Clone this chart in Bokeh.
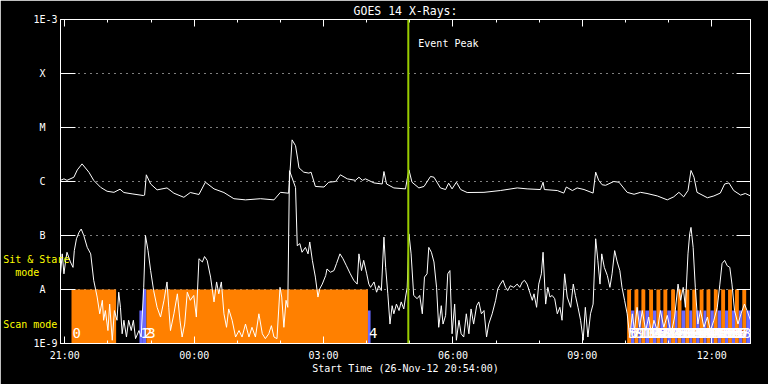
import numpy as np
from bokeh.plotting import figure
from bokeh.models import (Range1d, FixedTicker, CustomJSTickFormatter, LinearAxis,
                          LogAxis, Span, Label, ColumnDataSource)
from bokeh.core.properties import value
from bokeh.embed import file_html
from bokeh.resources import INLINE

FONT = "DejaVu Sans Mono"
NB = "\u00a0"

# ---------------- data (x = hours after 26-Nov-12 21:00) ----------------
x_start, x_end = -0.1, 15.9          # 20:54 .. 12:54
x_tick_hours = [0, 3, 6, 9, 12, 15]
x_tick_labels = ["21:00", "00:00", "03:00", "06:00", "09:00", "12:00"]
x_minor_hours = [0, 1, 2, 3, 4, 5, 6, 7, 8, 9, 10, 11, 12, 13, 14, 15]

y_min, y_max = 1e-9, 1e-3
y_ticks = [1e-9, 1e-8, 1e-7, 1e-6, 1e-5, 1e-4, 1e-3]
y_tick_labels = ["1E-9", "A", "B", "C", "M", "X", "1E-3"]
y_grid_levels = [1e-8, 1e-7, 1e-6, 1e-5, 1e-4]

title_text = "GOES 14 X-Rays:"
x_title = "Start Time (26-Nov-12 20:54:00)"

# GOES 14 long channel (1-8 A), W/m^2
long_hours = [-0.10, -0.02, 0.05, 0.21, 0.29, 0.40, 0.56, 0.67, 0.83, 0.98, 1.14, 1.28, 1.37, 1.56,
              1.82, 1.85, 1.89, 1.99, 2.14, 2.37, 2.53, 2.76, 2.91, 3.11, 3.26, 3.46, 3.69, 3.92,
              4.19, 4.54, 4.85, 5.00, 5.19, 5.27, 5.35, 5.40, 5.43, 5.54, 5.66, 5.71, 5.81, 6.01,
              6.12, 6.28, 6.39, 6.55, 6.74, 6.82, 6.90, 6.97, 7.17, 7.36, 7.40, 7.46, 7.63, 7.90,
              7.94, 7.98, 8.05, 8.21, 8.33, 8.48, 8.56, 8.71, 8.83, 8.90, 8.98, 9.08, 9.18, 9.33,
              9.72, 10.10, 10.49, 10.72, 11.03, 11.09, 11.12, 11.42, 11.57, 11.63, 11.77, 11.88,
              12.04, 12.25, 12.31, 12.38, 12.46, 12.54, 12.73, 12.85, 13.04, 13.20, 13.35, 13.50,
              13.74, 13.97, 14.12, 14.24, 14.35, 14.45, 14.52, 14.59, 14.66, 14.90, 15.05, 15.20,
              15.30, 15.40, 15.51, 15.67, 15.78, 15.90]
long_flux = [1.05e-6, 1.12e-6, 1.05e-6, 1.2e-6, 1.64e-6, 2.12e-6, 1.48e-6, 1.05e-6, 7.8e-7, 6.6e-7,
             6.3e-7, 7.2e-7, 6.25e-7, 5.9e-7, 5.5e-7, 5.6e-7, 1.33e-6, 9.0e-7, 7.0e-7, 7.6e-7,
             6.07e-7, 5.1e-7, 6.25e-7, 5.75e-7, 9.7e-7, 7.3e-7, 6.25e-7, 4.8e-7, 4.57e-7, 4.8e-7,
             4.57e-7, 6.3e-7, 6.07e-7, 5.9e-6, 4.6e-6, 2.6e-6, 1.79e-6, 1.49e-6, 1.43e-6, 1.49e-6,
             8.1e-7, 7.9e-7, 9.7e-7, 1.0e-6, 1.33e-6, 1.12e-6, 1.05e-6, 1.2e-6, 1.05e-6, 1.12e-6,
             9.4e-7, 9.0e-7, 1.53e-6, 9.0e-7, 7.6e-7, 7.3e-7, 1.12e-6, 1.64e-6, 9.7e-7, 7.6e-7,
             8.1e-7, 1.24e-6, 1.2e-6, 7.6e-7, 7.1e-7, 9.3e-7, 7.3e-7, 9.7e-7, 7.1e-7, 6.25e-7,
             6.3e-7, 6.8e-7, 7.6e-7, 7.3e-7, 7.1e-7, 9.7e-7, 7.1e-7, 6.8e-7, 6.1e-7, 7.9e-7,
             6.8e-7, 7.6e-7, 7.1e-7, 6.1e-7, 1.49e-6, 1.05e-6, 8.7e-7, 8.5e-7, 1.0e-6, 9.7e-7,
             6.3e-7, 5.8e-7, 6.3e-7, 6.0e-7, 5.4e-7, 4.57e-7, 5.2e-7, 6.3e-7, 5.2e-7, 6.8e-7,
             1.6e-6, 1.2e-6, 6.3e-7, 5.0e-7, 5.4e-7, 6.1e-7, 9.0e-7, 9.4e-7, 6.8e-7, 5.6e-7,
             6.0e-7, 5.4e-7]

# GOES 14 short channel (0.5-4 A), log10 of W/m^2
short_hours = [-0.10, -0.06, -0.02, 0.02, 0.05, 0.13, 0.19, 0.22, 0.27, 0.33, 0.38, 0.44, 0.52, 0.60,
               0.67, 0.75, 0.81, 0.87, 0.90, 0.94, 1.00, 1.04, 1.10, 1.15, 1.21, 1.25, 1.29, 1.33,
               1.37, 1.43, 1.48, 1.54, 1.59, 1.64, 1.72, 1.77, 1.83, 1.87, 1.93, 1.99, 2.06, 2.14,
               2.22, 2.30, 2.37, 2.41, 2.45, 2.53, 2.61, 2.67, 2.72, 2.78, 2.84, 2.91, 2.99, 3.05,
               3.11, 3.19, 3.24, 3.30, 3.38, 3.46, 3.52, 3.57, 3.63, 3.69, 3.75, 3.80, 3.88, 3.96,
               4.04, 4.11, 4.19, 4.27, 4.34, 4.42, 4.50, 4.58, 4.65, 4.73, 4.79, 4.85, 4.92, 4.99,
               5.03, 5.08, 5.13, 5.17, 5.21, 5.35, 5.39, 5.45, 5.50, 5.58, 5.64, 5.68, 5.74, 5.81,
               5.87, 5.91, 5.97, 6.05, 6.08, 6.16, 6.24, 6.30, 6.38, 6.45, 6.53, 6.62, 6.70, 6.78,
               6.82, 6.88, 6.93, 7.00, 7.05, 7.09, 7.17, 7.23, 7.28, 7.34, 7.40, 7.44, 7.49, 7.54,
               7.59, 7.63, 7.69, 7.75, 7.80, 7.86, 7.90, 7.94,
               7.98, 8.03, 8.09, 8.17, 8.23, 8.29, 8.34, 8.40, 8.44, 8.50, 8.56, 8.62, 8.67, 8.73,
               8.77, 8.83, 8.88, 8.93, 8.98, 9.04, 9.08, 9.14, 9.19, 9.25, 9.31, 9.37, 9.42, 9.48,
               9.55, 9.60, 9.66, 9.72, 9.78, 9.83, 9.91, 9.99, 10.04, 10.10, 10.16, 10.22, 10.27,
               10.33, 10.41, 10.49, 10.55, 10.61, 10.66, 10.72, 10.78, 10.84, 10.88, 10.94, 10.99,
               11.05, 11.09, 11.15, 11.20, 11.25, 11.30, 11.36, 11.42, 11.48, 11.53, 11.59, 11.65,
               11.73, 11.79, 11.84, 11.90, 11.96, 12.02, 12.07, 12.13, 12.19, 12.25, 12.31, 12.36,
               12.41, 12.45, 12.51, 12.58, 12.64, 12.69, 12.75, 12.81, 12.87, 12.92, 12.98, 13.04,
               13.10, 13.16, 13.21, 13.27, 13.33, 13.39, 13.47, 13.54, 13.60, 13.66, 13.74, 13.81,
               13.89, 13.97, 14.06, 14.14, 14.22, 14.28, 14.34, 14.39, 14.45, 14.49, 14.52, 14.57,
               14.62, 14.68, 14.74, 14.82, 14.90, 14.97, 15.05, 15.13, 15.19, 15.24, 15.30, 15.36,
               15.42, 15.47, 15.53, 15.61, 15.68, 15.76, 15.82, 15.90]
short_log10 = [-7.71, -7.34, -7.71, -7.46, -7.31, -7.49, -7.59, -7.28, -7.06, -6.94, -6.88, -7.00,
               -7.22, -7.34, -7.83, -8.14, -8.45, -8.20, -8.57, -8.39, -8.76, -8.27, -8.94, -8.39,
               -8.57, -8.05, -8.33, -8.82, -8.57, -8.88, -8.57, -8.76, -8.57, -8.91, -8.76, -8.88,
               -7.96, -7.00, -7.28, -7.65, -8.02, -8.33, -8.51, -8.20, -7.86, -8.33, -8.76, -8.45,
               -8.08, -8.57, -8.88, -8.64, -8.05, -8.20, -8.11, -8.51, -7.43, -7.49, -7.39, -7.46,
               -7.77, -8.23, -7.86, -8.08, -7.86, -8.45, -8.70, -8.36, -8.57, -8.88, -8.76, -8.88,
               -8.64, -8.88, -8.70, -8.88, -8.45, -8.82, -8.91, -8.82, -8.67, -8.88, -8.91, -7.96,
               -8.14, -8.70, -8.20, -8.33, -5.80, -6.11, -7.19, -7.15, -7.31, -7.22, -7.34, -7.12,
               -7.46, -7.77, -8.14, -7.99, -7.90, -7.74, -7.62, -7.68, -7.65, -7.52, -7.34, -7.43,
               -7.56, -7.71, -7.83, -7.90, -7.34, -7.65, -7.46, -7.71, -7.90, -7.96, -7.86, -8.05,
               -7.93, -8.02, -7.03, -7.59, -8.08, -8.64, -8.30, -8.45, -8.27, -8.39, -8.23, -8.36,
               -8.14, -7.96,
               -6.97, -7.34, -8.11, -8.17, -8.11, -8.45, -7.77, -7.71, -7.22, -7.31, -7.49, -7.96,
               -8.70, -8.30, -8.64, -8.48, -7.71, -7.65, -8.82, -8.27, -8.94, -8.57, -8.82, -8.88,
               -8.45, -8.82, -8.36, -8.64, -8.30, -8.23, -8.45, -8.39, -8.88, -8.64, -8.45, -8.20,
               -7.99, -7.90, -7.83, -7.96, -8.02, -7.93, -7.96, -7.90, -7.96, -7.86, -7.83, -7.90,
               -8.05, -8.20, -8.08, -8.33, -7.90, -7.71, -7.31, -8.27, -7.96, -8.14, -8.11, -8.17,
               -8.45, -8.33, -8.57, -7.71, -8.14, -8.33, -7.90, -8.11, -8.33, -8.57, -8.94, -8.33,
               -8.88, -8.45, -8.27, -7.06, -7.46, -7.90, -7.34, -7.59, -7.74, -7.96, -7.71, -7.28,
               -7.49, -7.65, -7.96, -8.20, -8.45, -8.88, -8.45, -8.76, -8.33, -8.70, -8.39, -8.76,
               -8.51, -8.82, -8.57, -8.76, -8.39, -8.70, -8.48, -8.82, -8.51, -7.90, -8.20, -7.96,
               -8.33, -7.34, -6.97, -6.85, -7.22, -7.96, -8.64, -8.39, -8.70, -8.51, -8.76, -8.57,
               -8.33, -7.90, -7.52, -7.46, -7.56, -7.59, -7.90, -8.39, -8.64, -8.45, -8.27, -8.39,
               -8.57]

# observing-mode segments: "S" = sit & stare, "C" = scan
seg_start = [0.155, 1.73, 1.81, 1.89, 7.03,
             13.04, 13.13, 13.21, 13.30, 13.37, 13.46, 13.55, 13.64, 13.72, 13.81, 13.88, 13.97,
             14.06, 14.15, 14.21, 14.30, 14.39, 14.48, 14.55, 14.64, 14.72, 14.81, 14.88, 14.97,
             15.05, 15.14, 15.22, 15.31, 15.38, 15.47, 15.54, 15.63, 15.71, 15.80]
seg_end = [1.19, 1.81, 1.89, 7.03, 7.09,
           13.13, 13.21, 13.30, 13.37, 13.46, 13.55, 13.64, 13.72, 13.81, 13.88, 13.97, 14.06,
           14.15, 14.21, 14.30, 14.39, 14.48, 14.55, 14.64, 14.72, 14.81, 14.88, 14.97, 15.05,
           15.14, 15.22, 15.31, 15.38, 15.47, 15.54, 15.63, 15.71, 15.80, 15.90]
seg_mode = ["S", "C", "C", "S", "C"] + ["S", "C"] * 17
seg_level = [1e-8, 4.1e-9, 1e-8, 1e-8, 4.1e-9] + [1e-8, 4.1e-9] * 17

seg_numbers_first = ["0", "1", "2", "3", "4"]
seg_numbers_right = [str(n) for n in range(5, 59)]

event_hour = 7.965
event_text = "Event Peak"

# mode legend texts shown in the left margin
mode_texts = ["Sit & Stare", "mode", "Scan mode"]

# ---------------- figure ----------------
W, H = 768, 384
BL, BR, BT, BB = 60, 18, 19, 41

p = figure(width=W, height=H, output_backend="svg", toolbar_location=None,
           x_range=Range1d(x_start, x_end), y_range=Range1d(y_min, y_max),
           y_axis_type="log", min_border_left=BL, min_border_right=BR,
           min_border_top=BT, min_border_bottom=BB)
p.background_fill_color = "black"
p.border_fill_color = "black"
p.outline_line_color = "white"
p.outline_line_width = 1

xt = FixedTicker(ticks=x_tick_hours, minor_ticks=x_minor_hours)
xfmt = CustomJSTickFormatter(args=dict(tv=x_tick_hours, tl=x_tick_labels), code="""
for (let i = 0; i < tv.length; i++) { if (Math.abs(tick - tv[i]) < 1e-6) return tl[i]; }
return "";""")
yt = FixedTicker(ticks=y_ticks, minor_ticks=[])
y_disp = [t if len(t) > 1 else t + NB + NB for t in y_tick_labels]
yfmt = CustomJSTickFormatter(args=dict(tv=y_ticks, tl=y_disp), code="""
for (let i = 0; i < tv.length; i++) { if (Math.abs(Math.log10(tick) - Math.log10(tv[i])) < 1e-6) return tl[i]; }
return "";""")
blank = CustomJSTickFormatter(code="return '';")

def style_axis(ax, tin, minor_in):
    ax.axis_line_color = "white"
    ax.major_tick_line_color = "white"
    ax.minor_tick_line_color = "white"
    ax.major_tick_in = tin
    ax.major_tick_out = 0
    ax.minor_tick_in = minor_in
    ax.minor_tick_out = 0
    ax.major_label_text_color = "white"
    ax.major_label_text_font = FONT
    ax.major_label_text_font_size = "10px"

# bottom axis
xa = p.xaxis[0]
xa.ticker = xt
xa.formatter = xfmt
style_axis(xa, 7, 3)
xa.major_label_standoff = 6
xa.axis_label = x_title
xa.axis_label_text_color = "white"
xa.axis_label_text_font = FONT
xa.axis_label_text_font_size = "10px"
xa.axis_label_text_font_style = "normal"
xa.axis_label_standoff = -1

# left axis: class letters, plus the yellow mode legend as a horizontal axis label
ya = p.yaxis[0]
ya.ticker = yt
ya.formatter = yfmt
style_axis(ya, 15, 0)
ya.major_label_standoff = 3
w = max(len(t) for t in mode_texts)
line_sit = mode_texts[0].ljust(w, NB)
line_mode = (NB + NB + mode_texts[1]).ljust(w, NB)
line_scan = mode_texts[2].ljust(w, NB)
legend_lines = [NB * w] * 17 + [line_sit, line_mode, NB * w, NB * w, NB * w, line_scan]
ya.axis_label = "\n".join(legend_lines)
ya.axis_label_orientation = "horizontal"
ya.axis_label_text_color = "#ffff00"
ya.axis_label_text_font = FONT
ya.axis_label_text_font_size = "10px"
ya.axis_label_text_font_style = "normal"
ya.axis_label_text_align = "left"
ya.axis_label_text_line_height = 1.18
ya.axis_label_standoff = -39

# top axis: hour ticks, title as its label
top = LinearAxis(ticker=xt, formatter=blank)
style_axis(top, 7, 3)
top.major_label_standoff = 0
top.major_label_text_font_size = "0px"
top.axis_label = title_text
top.axis_label_text_color = "white"
top.axis_label_text_font = FONT
top.axis_label_text_font_size = "11.5px"
top.axis_label_text_font_style = "normal"
top.axis_label_standoff = 2
p.add_layout(top, "above")

right = LogAxis(ticker=yt, formatter=blank)
style_axis(right, 14, 0)
right.major_label_standoff = 0
right.major_label_text_font_size = "0px"
p.add_layout(right, "right")

p.xgrid.visible = False
p.ygrid.ticker = FixedTicker(ticks=y_grid_levels, minor_ticks=[])
p.ygrid.grid_line_color = "white"
p.ygrid.grid_line_dash = "1 5"
p.ygrid.grid_line_width = 1

# mode bars
mode_color = {"S": "#ff8000", "C": "#6868ff"}
seg_src = ColumnDataSource(dict(left=seg_start, right=seg_end, top=seg_level,
                                bottom=[y_min] * len(seg_start),
                                color=[mode_color[m] for m in seg_mode]))
p.quad(left="left", right="right", top="top", bottom="bottom", fill_color="color",
       line_color=None, source=seg_src)

# curves
p.line(long_hours, long_flux, line_color="white", line_width=1)
p.line(short_hours, list(10 ** np.array(short_log10)), line_color="white", line_width=1)

# segment numbers
num_x = seg_start[:5] + list(np.linspace(seg_start[5], 15.5, len(seg_numbers_right)))
num_t = seg_numbers_first + seg_numbers_right
p.text(x=num_x, y=[1.55e-9] * len(num_x), text=num_t, text_color="white",
       text_font=value(FONT), text_font_size="14px", text_baseline="middle",
       text_align="left", x_offset=1)

# event peak
p.add_layout(Span(location=event_hour, dimension="height", line_color="#99cc00", line_width=2))
p.add_layout(Label(x=event_hour, y=3.6e-4, x_offset=10, text=event_text, text_color="white",
                   text_font=FONT, text_font_size="10px", text_baseline="middle"))

open("out.html", "w").write(file_html(p, INLINE))
